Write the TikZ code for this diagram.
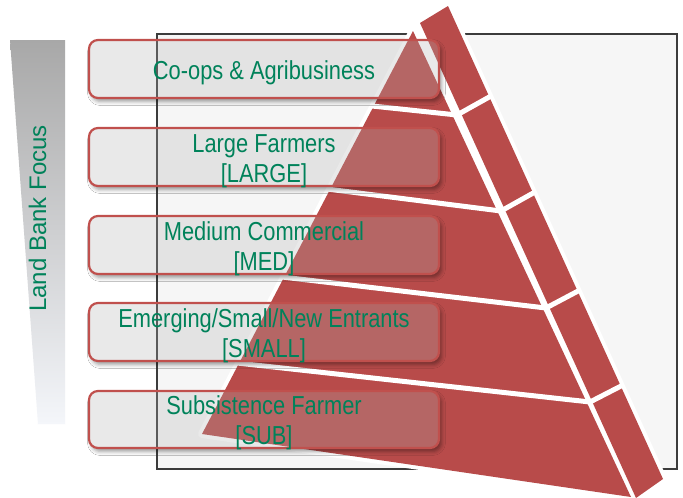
\documentclass[tikz,border=0pt]{standalone}
\usepackage{fontspec}
\setmainfont{Liberation Sans}
\newfontfamily\tierfont[FakeStretch=0.84]{Liberation Sans}
\usetikzlibrary{shadows.blur}

\definecolor{tiergreen}{HTML}{00825A}
\definecolor{pyrred}{HTML}{B84B4A}
\definecolor{boxred}{HTML}{C0504D}
\definecolor{panelfill}{HTML}{F6F6F6}
\definecolor{panelline}{HTML}{3C3C3C}
\definecolor{bartop}{HTML}{A8A8A8}
\definecolor{barbottom}{HTML}{F4F6FA}
\definecolor{veil}{HTML}{B0B0B0}

\begin{document}
\begin{tikzpicture}[x=1pt,y=-1pt,
  tierbox/.style={draw=boxred, line width=2.2pt, rounded corners=9pt,
    fill=veil, fill opacity=0.27},
  tiertext/.style={text=tiergreen, font=\tierfont\fontsize{26}{30}\selectfont,
    anchor=base, inner sep=0pt},
  seam/.style={white, line width=5pt, line cap=butt, line join=round},
  halo/.style={white, line width=8pt, line join=round},
]
\useasboundingbox (0,0) rectangle (683,498);
\fill[white] (0,0) rectangle (683,498);

% framed panel behind the pyramid
\draw[fill=panelfill, draw=panelline, line width=1.3pt] (157,34) rectangle (677,469);

% tapering gradient bar with its caption
\shade[top color=bartop, bottom color=barbottom]
  (10,40) -- (65,40) -- (65,424) -- (38,424) -- cycle;
\node[font=\fontsize{24}{28}\selectfont, text=tiergreen, rotate=90,
  anchor=base, inner sep=0pt] (focus) at (46,218.5) {Land Bank Focus};

% pyramid: front face and side face
\coordinate (A)  at (413,31);
\coordinate (L5) at (202,434);
\coordinate (F5) at (631,497);
\coordinate (T1) at (420,23);
\coordinate (T2) at (448,6);
\coordinate (R5) at (663,479);
\coordinate (B)  at (636,498);
\fill[white] (L5) -- (A) -- (T1) -- (T2) -- (R5) -- (B) -- (F5) -- cycle;
\draw[halo] (L5) -- (A) -- (T1) -- (T2) -- (R5) -- (B) -- (F5) -- cycle;
\fill[pyrred] (A) -- (L5) -- (F5) -- cycle;
\fill[pyrred] (T1) -- (T2) -- (R5) -- (B) -- cycle;
% gaps between the tiers
\draw[seam] (372,106) -- (457,115) -- (491,96);
\draw[seam] (327,189) -- (501,211) -- (535,192);
\draw[seam] (282,277) -- (546,308) -- (580,290);
\draw[seam] (237,363) -- (590,402) -- (623,385);

% soft shadows of the tier boxes, kept outside the boxes
\foreach \top/\bot in {40/98, 128/186, 216/274, 303/361, 391/448} {
  \begin{scope}[even odd rule, rounded corners=9pt]
    \clip (-20,-20) rectangle (703,518) (89,\top) rectangle (439,\bot);
    \path[blur shadow={shadow xshift=2.5pt,
      shadow yshift=-3.5pt, shadow blur radius=4pt, shadow opacity=40}]
      (89,\top) rectangle (439,\bot);
  \end{scope}
}
% translucent tier boxes
\foreach \top/\bot in {40/98, 128/186, 216/274, 303/361, 391/448} {
  \draw[tierbox] (89,\top) rectangle (439,\bot);
}

% tier labels
\node[tiertext] (coops)     at (264,79)  {Co-ops \& Agribusiness};
\node[tiertext] (large)     at (264,152) {Large Farmers};
\node[tiertext] (largetag)  at (264,182) {[LARGE]};
\node[tiertext] (medium)    at (264,240) {Medium Commercial};
\node[tiertext] (mediumtag) at (264,270) {[MED]};
\node[tiertext] (small)     at (264,327) {Emerging/Small/New Entrants};
\node[tiertext] (smalltag)  at (264,357) {[SMALL]};
\node[tiertext] (subs)      at (264,414) {Subsistence Farmer};
\node[tiertext] (substag)   at (264,444) {[SUB]};
\end{tikzpicture}
\end{document}
